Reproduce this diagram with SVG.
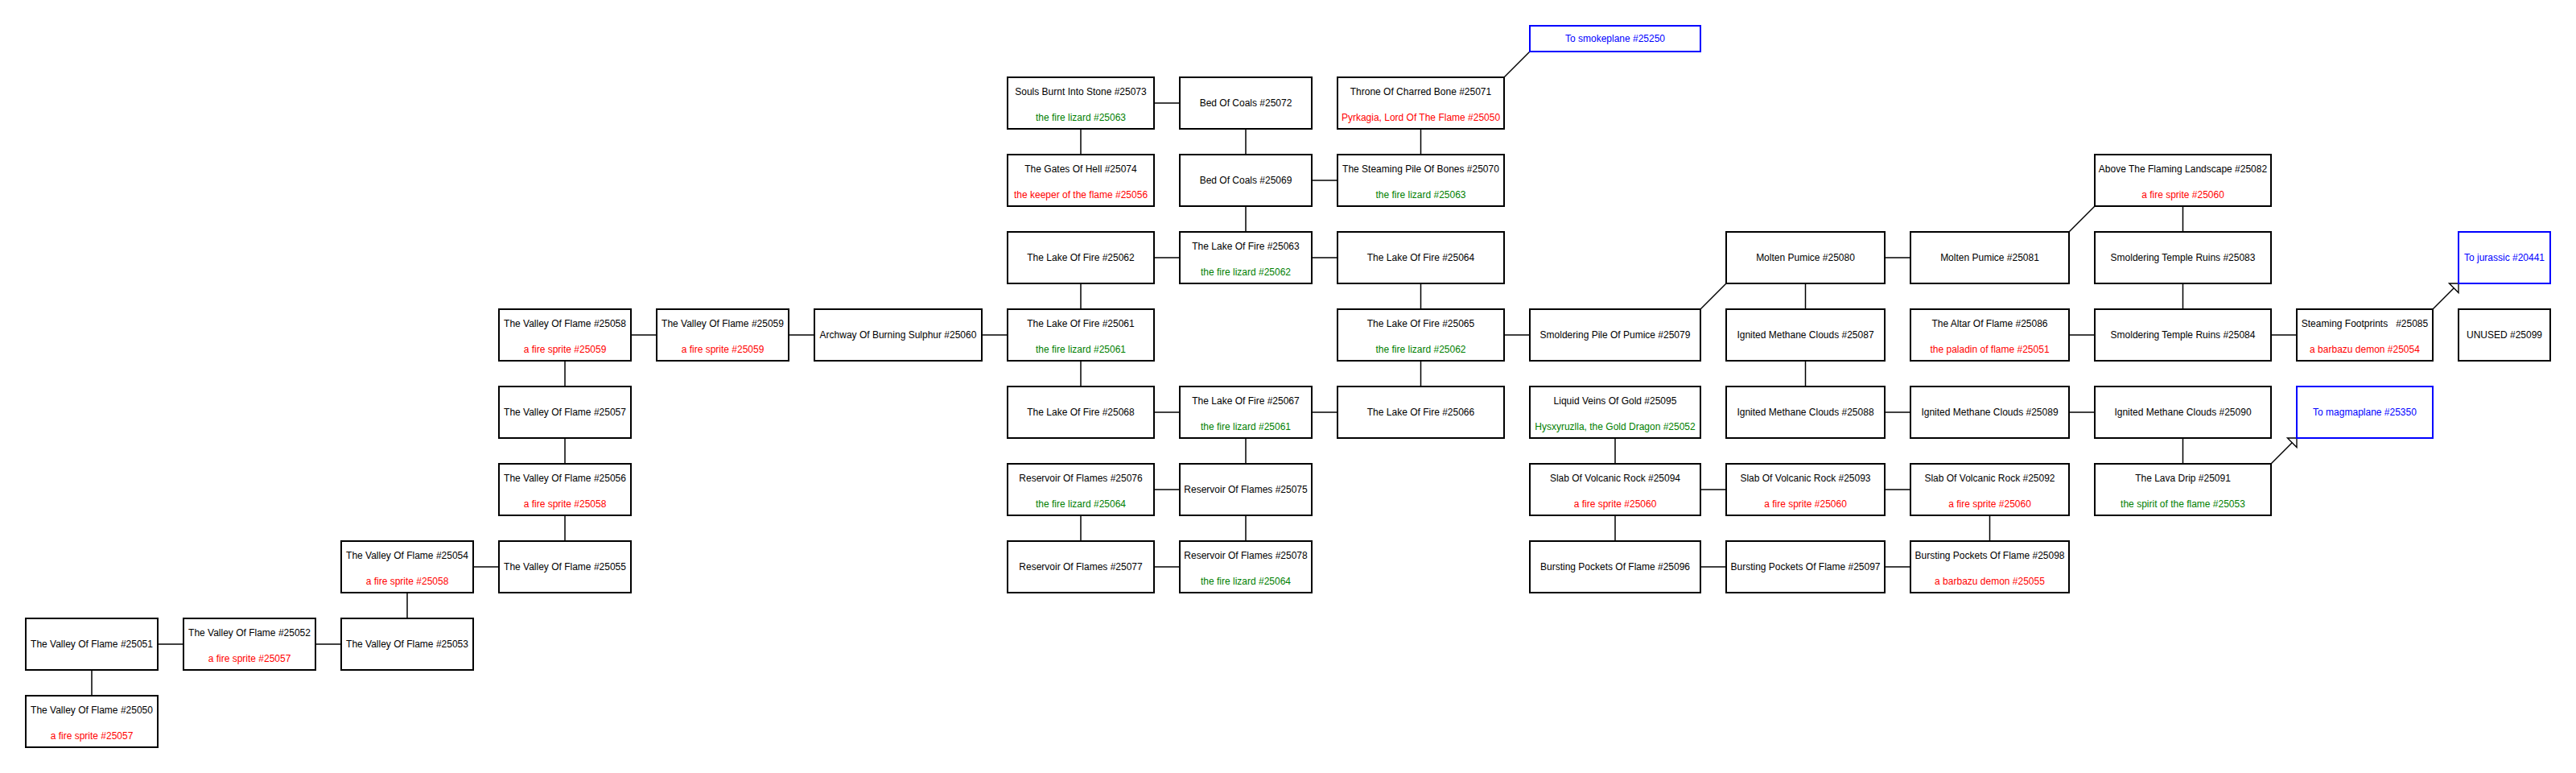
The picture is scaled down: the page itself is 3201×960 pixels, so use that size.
<svg xmlns="http://www.w3.org/2000/svg" width="3201" height="960" viewBox="0 0 3201 960">
<style>
rect{fill:#fff;stroke:#000;stroke-width:2}
.lk rect{stroke:#00f}
text{font-family:"Liberation Sans",Arial,sans-serif;font-size:12px;text-anchor:middle;dominant-baseline:central;fill:#000;white-space:pre}
.r{fill:#f00}.g{fill:#008000}.b{fill:#00f}
#edges line{stroke:#000;stroke-width:1.5}
</style>
<defs>
<marker id="arr" markerUnits="userSpaceOnUse" markerWidth="20" markerHeight="20" refX="9" refY="9" orient="auto" viewBox="-2 -2 22 22" overflow="visible"><path d="M0,0 L9,9 L0,18 z" fill="#fff" stroke="#000" stroke-width="1.5"/></marker>
</defs>
<rect x="0" y="0" width="3201" height="960" style="stroke:none;fill:#fff"/>
<g id="edges">
<line x1="196" y1="800" x2="228" y2="800"/>
<line x1="392" y1="800" x2="424" y2="800"/>
<line x1="588" y1="704" x2="620" y2="704"/>
<line x1="784" y1="416" x2="816" y2="416"/>
<line x1="980" y1="416" x2="1012" y2="416"/>
<line x1="1220" y1="416" x2="1252" y2="416"/>
<line x1="1434" y1="320" x2="1466" y2="320"/>
<line x1="1630" y1="320" x2="1662" y2="320"/>
<line x1="1434" y1="128" x2="1466" y2="128"/>
<line x1="1630" y1="224" x2="1662" y2="224"/>
<line x1="1434" y1="512" x2="1466" y2="512"/>
<line x1="1630" y1="512" x2="1662" y2="512"/>
<line x1="1434" y1="608" x2="1466" y2="608"/>
<line x1="1434" y1="704" x2="1466" y2="704"/>
<line x1="1869" y1="416" x2="1901" y2="416"/>
<line x1="2342" y1="320" x2="2374" y2="320"/>
<line x1="2342" y1="512" x2="2374" y2="512"/>
<line x1="2571" y1="512" x2="2603" y2="512"/>
<line x1="2113" y1="608" x2="2145" y2="608"/>
<line x1="2342" y1="608" x2="2374" y2="608"/>
<line x1="2113" y1="704" x2="2145" y2="704"/>
<line x1="2342" y1="704" x2="2374" y2="704"/>
<line x1="2571" y1="416" x2="2603" y2="416"/>
<line x1="2822" y1="416" x2="2854" y2="416"/>
<line x1="114" y1="832" x2="114" y2="864"/>
<line x1="506" y1="736" x2="506" y2="768"/>
<line x1="702" y1="448" x2="702" y2="480"/>
<line x1="702" y1="544" x2="702" y2="576"/>
<line x1="702" y1="640" x2="702" y2="672"/>
<line x1="1343" y1="160" x2="1343" y2="192"/>
<line x1="1343" y1="352" x2="1343" y2="384"/>
<line x1="1343" y1="448" x2="1343" y2="480"/>
<line x1="1343" y1="640" x2="1343" y2="672"/>
<line x1="1548" y1="160" x2="1548" y2="192"/>
<line x1="1548" y1="256" x2="1548" y2="288"/>
<line x1="1548" y1="544" x2="1548" y2="576"/>
<line x1="1548" y1="640" x2="1548" y2="672"/>
<line x1="1765.5" y1="160" x2="1765.5" y2="192"/>
<line x1="1765.5" y1="352" x2="1765.5" y2="384"/>
<line x1="1765.5" y1="448" x2="1765.5" y2="480"/>
<line x1="2007" y1="544" x2="2007" y2="576"/>
<line x1="2007" y1="640" x2="2007" y2="672"/>
<line x1="2243.5" y1="352" x2="2243.5" y2="384"/>
<line x1="2243.5" y1="448" x2="2243.5" y2="480"/>
<line x1="2472.5" y1="640" x2="2472.5" y2="672"/>
<line x1="2712.5" y1="256" x2="2712.5" y2="288"/>
<line x1="2712.5" y1="352" x2="2712.5" y2="384"/>
<line x1="2712.5" y1="544" x2="2712.5" y2="576"/>
<line x1="1869" y1="96" x2="1901" y2="64"/>
<line x1="2113" y1="384" x2="2145" y2="352"/>
<line x1="2571" y1="288" x2="2603" y2="256"/>
<line x1="3023" y1="384" x2="3055" y2="352" marker-end="url(#arr)"/>
<line x1="2822" y1="576" x2="2854" y2="544" marker-end="url(#arr)"/>
</g>
<g id="n25051"><rect x="32" y="768" width="164" height="64"/><text x="114" y="800">The Valley Of Flame #25051</text></g>
<g id="n25050"><rect x="32" y="864" width="164" height="64"/><text x="114" y="882">The Valley Of Flame #25050</text><text class="r" x="114" y="914">a fire sprite #25057</text></g>
<g id="n25052"><rect x="228" y="768" width="164" height="64"/><text x="310" y="786">The Valley Of Flame #25052</text><text class="r" x="310" y="818">a fire sprite #25057</text></g>
<g id="n25054"><rect x="424" y="672" width="164" height="64"/><text x="506" y="690">The Valley Of Flame #25054</text><text class="r" x="506" y="722">a fire sprite #25058</text></g>
<g id="n25053"><rect x="424" y="768" width="164" height="64"/><text x="506" y="800">The Valley Of Flame #25053</text></g>
<g id="n25058"><rect x="620" y="384" width="164" height="64"/><text x="702" y="402">The Valley Of Flame #25058</text><text class="r" x="702" y="434">a fire sprite #25059</text></g>
<g id="n25057"><rect x="620" y="480" width="164" height="64"/><text x="702" y="512">The Valley Of Flame #25057</text></g>
<g id="n25056"><rect x="620" y="576" width="164" height="64"/><text x="702" y="594">The Valley Of Flame #25056</text><text class="r" x="702" y="626">a fire sprite #25058</text></g>
<g id="n25055"><rect x="620" y="672" width="164" height="64"/><text x="702" y="704">The Valley Of Flame #25055</text></g>
<g id="n25059"><rect x="816" y="384" width="164" height="64"/><text x="898" y="402">The Valley Of Flame #25059</text><text class="r" x="898" y="434">a fire sprite #25059</text></g>
<g id="n25060"><rect x="1012" y="384" width="208" height="64"/><text x="1116" y="416">Archway Of Burning Sulphur #25060</text></g>
<g id="n25073"><rect x="1252" y="96" width="182" height="64"/><text x="1343" y="114">Souls Burnt Into Stone #25073</text><text class="g" x="1343" y="146">the fire lizard #25063</text></g>
<g id="n25074"><rect x="1252" y="192" width="182" height="64"/><text x="1343" y="210">The Gates Of Hell #25074</text><text class="r" x="1343" y="242">the keeper of the flame #25056</text></g>
<g id="n25062"><rect x="1252" y="288" width="182" height="64"/><text x="1343" y="320">The Lake Of Fire #25062</text></g>
<g id="n25061"><rect x="1252" y="384" width="182" height="64"/><text x="1343" y="402">The Lake Of Fire #25061</text><text class="g" x="1343" y="434">the fire lizard #25061</text></g>
<g id="n25068"><rect x="1252" y="480" width="182" height="64"/><text x="1343" y="512">The Lake Of Fire #25068</text></g>
<g id="n25076"><rect x="1252" y="576" width="182" height="64"/><text x="1343" y="594">Reservoir Of Flames #25076</text><text class="g" x="1343" y="626">the fire lizard #25064</text></g>
<g id="n25077"><rect x="1252" y="672" width="182" height="64"/><text x="1343" y="704">Reservoir Of Flames #25077</text></g>
<g id="n25072"><rect x="1466" y="96" width="164" height="64"/><text x="1548" y="128">Bed Of Coals #25072</text></g>
<g id="n25069"><rect x="1466" y="192" width="164" height="64"/><text x="1548" y="224">Bed Of Coals #25069</text></g>
<g id="n25063"><rect x="1466" y="288" width="164" height="64"/><text x="1548" y="306">The Lake Of Fire #25063</text><text class="g" x="1548" y="338">the fire lizard #25062</text></g>
<g id="n25067"><rect x="1466" y="480" width="164" height="64"/><text x="1548" y="498">The Lake Of Fire #25067</text><text class="g" x="1548" y="530">the fire lizard #25061</text></g>
<g id="n25075"><rect x="1466" y="576" width="164" height="64"/><text x="1548" y="608">Reservoir Of Flames #25075</text></g>
<g id="n25078"><rect x="1466" y="672" width="164" height="64"/><text x="1548" y="690">Reservoir Of Flames #25078</text><text class="g" x="1548" y="722">the fire lizard #25064</text></g>
<g id="n25071"><rect x="1662" y="96" width="207" height="64"/><text x="1765.5" y="114">Throne Of Charred Bone #25071</text><text class="r" x="1765.5" y="146">Pyrkagia, Lord Of The Flame #25050</text></g>
<g id="n25070"><rect x="1662" y="192" width="207" height="64"/><text x="1765.5" y="210">The Steaming Pile Of Bones #25070</text><text class="g" x="1765.5" y="242">the fire lizard #25063</text></g>
<g id="n25064"><rect x="1662" y="288" width="207" height="64"/><text x="1765.5" y="320">The Lake Of Fire #25064</text></g>
<g id="n25065"><rect x="1662" y="384" width="207" height="64"/><text x="1765.5" y="402">The Lake Of Fire #25065</text><text class="g" x="1765.5" y="434">the fire lizard #25062</text></g>
<g id="n25066"><rect x="1662" y="480" width="207" height="64"/><text x="1765.5" y="512">The Lake Of Fire #25066</text></g>
<g id="smokeplane" class="lk"><rect x="1901" y="32" width="212" height="32"/><text class="b" x="2007" y="48">To smokeplane #25250</text></g>
<g id="n25079"><rect x="1901" y="384" width="212" height="64"/><text x="2007" y="416">Smoldering Pile Of Pumice #25079</text></g>
<g id="n25095"><rect x="1901" y="480" width="212" height="64"/><text x="2007" y="498">Liquid Veins Of Gold #25095</text><text class="g" x="2007" y="530">Hysxyruzlla, the Gold Dragon #25052</text></g>
<g id="n25094"><rect x="1901" y="576" width="212" height="64"/><text x="2007" y="594">Slab Of Volcanic Rock #25094</text><text class="r" x="2007" y="626">a fire sprite #25060</text></g>
<g id="n25096"><rect x="1901" y="672" width="212" height="64"/><text x="2007" y="704">Bursting Pockets Of Flame #25096</text></g>
<g id="n25080"><rect x="2145" y="288" width="197" height="64"/><text x="2243.5" y="320">Molten Pumice #25080</text></g>
<g id="n25087"><rect x="2145" y="384" width="197" height="64"/><text x="2243.5" y="416">Ignited Methane Clouds #25087</text></g>
<g id="n25088"><rect x="2145" y="480" width="197" height="64"/><text x="2243.5" y="512">Ignited Methane Clouds #25088</text></g>
<g id="n25093"><rect x="2145" y="576" width="197" height="64"/><text x="2243.5" y="594">Slab Of Volcanic Rock #25093</text><text class="r" x="2243.5" y="626">a fire sprite #25060</text></g>
<g id="n25097"><rect x="2145" y="672" width="197" height="64"/><text x="2243.5" y="704">Bursting Pockets Of Flame #25097</text></g>
<g id="n25081"><rect x="2374" y="288" width="197" height="64"/><text x="2472.5" y="320">Molten Pumice #25081</text></g>
<g id="n25086"><rect x="2374" y="384" width="197" height="64"/><text x="2472.5" y="402">The Altar Of Flame #25086</text><text class="r" x="2472.5" y="434">the paladin of flame #25051</text></g>
<g id="n25089"><rect x="2374" y="480" width="197" height="64"/><text x="2472.5" y="512">Ignited Methane Clouds #25089</text></g>
<g id="n25092"><rect x="2374" y="576" width="197" height="64"/><text x="2472.5" y="594">Slab Of Volcanic Rock #25092</text><text class="r" x="2472.5" y="626">a fire sprite #25060</text></g>
<g id="n25098"><rect x="2374" y="672" width="197" height="64"/><text x="2472.5" y="690">Bursting Pockets Of Flame #25098</text><text class="r" x="2472.5" y="722">a barbazu demon #25055</text></g>
<g id="n25082"><rect x="2603" y="192" width="219" height="64"/><text x="2712.5" y="210">Above The Flaming Landscape #25082</text><text class="r" x="2712.5" y="242">a fire sprite #25060</text></g>
<g id="n25083"><rect x="2603" y="288" width="219" height="64"/><text x="2712.5" y="320">Smoldering Temple Ruins #25083</text></g>
<g id="n25084"><rect x="2603" y="384" width="219" height="64"/><text x="2712.5" y="416">Smoldering Temple Ruins #25084</text></g>
<g id="n25090"><rect x="2603" y="480" width="219" height="64"/><text x="2712.5" y="512">Ignited Methane Clouds #25090</text></g>
<g id="n25091"><rect x="2603" y="576" width="219" height="64"/><text x="2712.5" y="594">The Lava Drip #25091</text><text class="g" x="2712.5" y="626">the spirit of the flame #25053</text></g>
<g id="n25085"><rect x="2854" y="384" width="169" height="64"/><text x="2938.5" y="402">Steaming Footprints   #25085</text><text class="r" x="2938.5" y="434">a barbazu demon #25054</text></g>
<g id="magmaplane" class="lk"><rect x="2854" y="480" width="169" height="64"/><text class="b" x="2938.5" y="512">To magmaplane #25350</text></g>
<g id="jurassic" class="lk"><rect x="3055" y="288" width="114" height="64"/><text class="b" x="3112" y="320">To jurassic #20441</text></g>
<g id="n25099"><rect x="3055" y="384" width="114" height="64"/><text x="3112" y="416">UNUSED #25099</text></g>
</svg>
